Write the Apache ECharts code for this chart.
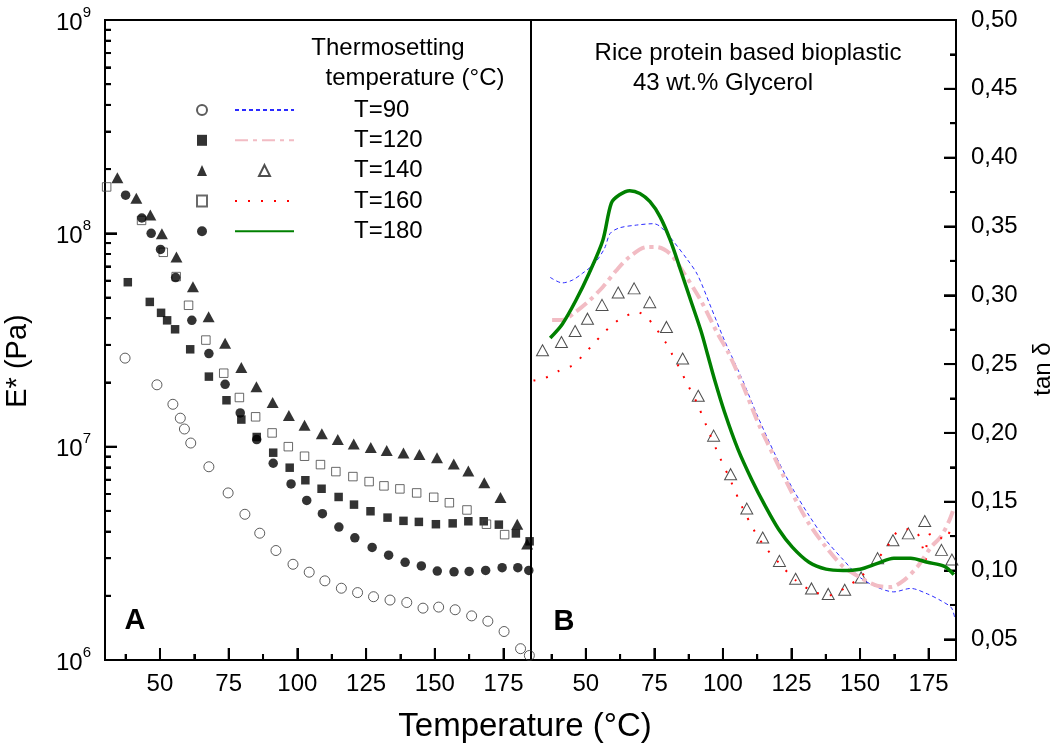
<!DOCTYPE html>
<html><head><meta charset="utf-8">
<script src="https://cdn.jsdelivr.net/npm/echarts@6/dist/echarts.min.js"></script>
<style>html,body{margin:0;padding:0;background:#fff}#c{width:1054px;height:749px;background:#fff}</style>
</head><body><div id="c"></div>
<script>
// ---------- Panel A: E* (Pa) vs temperature ----------
const eTemp90 = [37.3,48.9,54.7,57.4,58.9,61.2,67.8,74.8,80.9,86.3,92.2,98.4,104.3,110.0,116.0,121.9,127.7,133.7,139.8,145.7,151.4,157.4,163.4,169.3,175.2,181.2,184.4];
const eMod90  = [2.6e7,1.95e7,1.58e7,1.36e7,1.21e7,1.04e7,8.05e6,6.07e6,4.82e6,3.93e6,3.26e6,2.81e6,2.58e6,2.35e6,2.17e6,2.07e6,1.98e6,1.91e6,1.86e6,1.75e6,1.77e6,1.72e6,1.61e6,1.52e6,1.36e6,1.13e6,1.05e6];

const eTemp120 = [38.3,46.3,50.4,52.6,55.5,61.0,67.8,74.2,79.6,85.2,91.2,97.2,102.9,108.8,115.0,120.6,126.6,132.8,138.6,144.2,150.4,156.5,162.2,167.8,173.3,179.5,184.5];
const eMod120  = [5.9e7,4.77e7,4.24e7,3.91e7,3.55e7,2.86e7,2.13e7,1.65e7,1.34e7,1.11e7,9.37e6,7.97e6,6.96e6,6.35e6,5.81e6,5.35e6,4.98e6,4.65e6,4.49e6,4.44e6,4.33e6,4.37e6,4.47e6,4.47e6,4.31e6,3.92e6,3.6e6];

const eTemp140 = [34.5,41.4,46.5,50.7,56.0,62.0,67.7,73.7,79.6,85.1,91.0,96.9,102.6,108.9,114.7,120.5,126.7,132.5,138.6,144.4,150.8,156.9,162.2,168.0,173.9,180.0,183.6];
const eMod140  = [1.82e8,1.46e8,1.22e8,9.96e7,7.74e7,5.62e7,4.06e7,3.05e7,2.35e7,1.91e7,1.61e7,1.40e7,1.26e7,1.15e7,1.08e7,1.03e7,9.9e6,9.6e6,9.34e6,9.2e6,8.88e6,8.29e6,7.69e6,6.78e6,5.77e6,4.33e6,3.5e6];

const eTemp160 = [30.6,43.3,51.2,55.9,60.4,66.7,73.2,78.9,84.8,90.8,96.7,102.6,108.4,114.0,120.2,126.1,131.5,137.3,143.4,149.6,155.3,161.7,168.8,175.4];
const eMod160  = [1.65e8,1.15e8,8.15e7,6.27e7,4.6e7,3.16e7,2.21e7,1.7e7,1.38e7,1.16e7,1.0e7,9.02e6,8.24e6,7.64e6,7.24e6,6.86e6,6.55e6,6.34e6,6.07e6,5.79e6,5.46e6,5.05e6,4.33e6,3.87e6];

const eTemp180 = [37.5,43.4,46.8,50.2,55.7,61.6,67.8,73.7,79.2,85.2,91.2,97.7,103.4,109.1,115.1,120.9,127.2,133.2,139.2,145.1,150.9,157.0,162.5,168.5,174.5,180.2,184.2];
const eMod180  = [1.51e8,1.18e8,1.0e8,8.41e7,6.2e7,3.91e7,2.73e7,1.96e7,1.44e7,1.08e7,8.36e6,6.69e6,5.6e6,4.85e6,4.2e6,3.74e6,3.37e6,3.1e6,2.87e6,2.76e6,2.61e6,2.59e6,2.6e6,2.63e6,2.71e6,2.71e6,2.63e6];

// ---------- Panel B: tan delta vs temperature ----------
const tTemp90 = [37.0,41.4,45.1,48.8,53.1,56.8,58.9,62.3,68.5,74.7,77.1,80.8,87.0,90.7,95.7,100.6,106.8,112.9,119.1,125.3,131.4,137.6,143.8,150.0,156.1,162.3,168.5,174.6,179.6,183.3,184.5];
const tan90   = [0.313,0.309,0.311,0.316,0.323,0.334,0.345,0.349,0.351,0.352,0.350,0.342,0.326,0.315,0.291,0.267,0.240,0.211,0.184,0.160,0.140,0.122,0.108,0.095,0.088,0.0845,0.087,0.083,0.078,0.073,0.066];

const tTemp120 = [37.7,41.4,46.3,51.2,56.2,61.1,66.0,72.2,75.9,80.8,85.8,92.0,98.1,101.8,106.8,112.9,119.1,125.3,131.4,137.6,143.8,150.0,156.1,161.1,166.1,171.0,175.9,179.6,182.7,184.0];
const tan120   = [0.282,0.282,0.288,0.296,0.306,0.318,0.328,0.335,0.335,0.330,0.316,0.296,0.272,0.259,0.237,0.207,0.181,0.156,0.134,0.117,0.103,0.095,0.089,0.088,0.093,0.103,0.117,0.125,0.137,0.144];

const tTemp140 = [34.2,41.1,46.1,50.6,55.9,61.8,67.6,73.3,79.4,85.3,91.0,96.6,102.8,108.7,114.5,120.6,126.5,132.3,138.4,144.4,150.4,156.4,162.0,167.6,173.6,179.7,183.5];
const tan140   = [0.260,0.266,0.274,0.283,0.293,0.302,0.305,0.295,0.277,0.254,0.227,0.198,0.170,0.145,0.124,0.107,0.094,0.087,0.083,0.086,0.095,0.109,0.122,0.127,0.136,0.115,0.108];

const tTemp160 = [30.9,35.2,40.1,45.1,48.8,52.5,56.2,60.5,64.8,68.5,72.2,75.9,79.0,81.5,83.9,86.4,90.7,94.4,98.7,103.1,106.8,111.7,115.4,121.6,126.5,132.7,138.8,145.0,150.0,154.9,159.8,163.5,167.2,170.9,172.8,174.0,174.6,177.1,180.8,183.3];
const tan160   = [0.238,0.240,0.245,0.249,0.256,0.264,0.272,0.280,0.285,0.288,0.284,0.275,0.266,0.257,0.248,0.238,0.221,0.203,0.183,0.164,0.147,0.128,0.117,0.103,0.093,0.085,0.082,0.088,0.095,0.105,0.117,0.128,0.130,0.127,0.117,0.108,0.125,0.127,0.122,0.132];

const tTemp180 = [37.0,41.4,46.3,51.2,56.2,59.3,62.3,66.0,69.7,73.4,77.1,80.8,84.6,88.3,92.0,94.4,96.9,100.6,105.5,110.5,115.4,120.3,125.3,131.4,137.6,143.8,150.0,156.1,162.3,168.5,174.6,180.8,184.2];
const tan180   = [0.269,0.279,0.296,0.316,0.340,0.367,0.373,0.376,0.374,0.368,0.357,0.340,0.318,0.296,0.274,0.257,0.239,0.215,0.188,0.166,0.147,0.130,0.117,0.106,0.101,0.100,0.101,0.105,0.109,0.109,0.106,0.103,0.097];

// ---------- labels / ticks ----------
const seriesLabels = ['T=90','T=120','T=140','T=160','T=180'];
const xMajor = [50,75,100,125,150,175];
const xMinor = [37.5,62.5,87.5,112.5,137.5,162.5];
const tanMajor = [0.05,0.10,0.15,0.20,0.25,0.30,0.35,0.40,0.45,0.50];
const tanMinor = [0.075,0.125,0.175,0.225,0.275,0.325,0.375,0.425,0.475];
const logDecades = [1e6,1e7,1e8,1e9];
const logSteps = [2,3,4,5,6,7,8,9];

const FONT = "'Liberation Sans', Arial, sans-serif";
const blk = '#000';
const X_MIN = 30, X_MAX = 185, E_MIN = 1e6, E_MAX = 1e9, TAN_MIN = 0.035, TAN_MAX = 0.5;
const MAJ = 12, MIN = 6;
const zip = (a,b) => a.map((v,i)=>[v,b[i]]);
const logMinorExp = [];
logDecades.slice(0,3).forEach(d => logSteps.forEach(k => logMinorExp.push(Math.log10(k*d))));

function xAxes(g){
  return [
    { type:'value', gridIndex:g, min:X_MIN, max:X_MAX, position:'bottom',
      axisLine:{show:true, onZero:false, lineStyle:{color:blk,width:2}},
      axisTick:{show:true, inside:true, length:MAJ, customValues:xMajor, lineStyle:{color:blk,width:2}},
      axisLabel:{customValues:xMajor, fontSize:24, color:blk, margin:12, fontFamily:FONT},
      splitLine:{show:false} },
    { type:'value', gridIndex:g, min:X_MIN, max:X_MAX, position:'bottom',
      axisLine:{show:false, onZero:false},
      axisTick:{show:true, inside:true, length:MIN, customValues:xMinor, lineStyle:{color:blk,width:2}},
      axisLabel:{show:false}, splitLine:{show:false} }
  ];
}
const tanNames = ['tan90','tan120','tan140','tan160','tan180'];
const ROW0 = 98, ROWGAP = 6.3;

const option = {
  animation:false,
  grid:[
    {left:105, top:20, width:426, height:640, show:true, borderColor:blk, borderWidth:2, backgroundColor:'transparent'},
    {left:531, top:20, width:425, height:640, show:true, borderColor:blk, borderWidth:2, backgroundColor:'transparent'}
  ],
  xAxis:[...xAxes(0), ...xAxes(1)],
  yAxis:[
    { type:'log', logBase:10, gridIndex:0, min:E_MIN, max:E_MAX, position:'left',
      axisLine:{show:true, onZero:false, lineStyle:{color:blk,width:2}},
      axisTick:{show:true, inside:true, length:MAJ, lineStyle:{color:blk,width:2}},
      minorTick:{show:false}, splitLine:{show:false},
      axisLabel:{margin:14, color:blk,
        formatter: v => '{b|10}{s|' + Math.round(Math.log10(v)) + '}',
        rich:{ b:{fontSize:24, fontFamily:FONT, color:blk, verticalAlign:'bottom', lineHeight:30},
               s:{fontSize:15, fontFamily:FONT, color:blk, verticalAlign:'top', lineHeight:15} } } },
    { type:'value', gridIndex:0, min:6, max:9, position:'left',
      axisLine:{show:false, onZero:false},
      axisTick:{show:true, inside:true, length:MIN, customValues:logMinorExp, lineStyle:{color:blk,width:2}},
      axisLabel:{show:false}, splitLine:{show:false} },
    { type:'value', gridIndex:1, min:TAN_MIN, max:TAN_MAX, position:'right',
      axisLine:{show:true, onZero:false, lineStyle:{color:blk,width:2}},
      axisTick:{show:true, inside:true, length:MAJ, customValues:tanMajor, lineStyle:{color:blk,width:2}},
      axisLabel:{customValues:tanMajor, fontSize:24, color:blk, margin:15, fontFamily:FONT,
        formatter: v => v.toFixed(2).replace('.', ',')},
      splitLine:{show:false} },
    { type:'value', gridIndex:1, min:TAN_MIN, max:TAN_MAX, position:'right',
      axisLine:{show:false, onZero:false},
      axisTick:{show:true, inside:true, length:MIN, customValues:tanMinor, lineStyle:{color:blk,width:2}},
      axisLabel:{show:false}, splitLine:{show:false} }
  ],
  legend:[
    { orient:'vertical', left:196, top:ROW0, padding:0, itemGap:ROWGAP, itemWidth:10, itemHeight:11,
      selectedMode:false, data:['E90','E120','E140','E160','E180'],
      formatter: () => ' ', textStyle:{fontSize:24, lineHeight:24} },
    { orient:'vertical', left:234, top:ROW0, padding:0, itemGap:ROWGAP, itemWidth:59, itemHeight:11,
      selectedMode:false,
      data: tanNames.map(n => ({name:n, itemStyle:{opacity:0}})),
      formatter: n => seriesLabels[tanNames.indexOf(n)],
      textStyle:{fontSize:24, lineHeight:24, color:blk, fontFamily:FONT, padding:[0,0,0,55]} },
    { orient:'vertical', left:258, top:ROW0 + 2*(24+ROWGAP), padding:0, itemWidth:11, itemHeight:11,
      selectedMode:false, data:['tan140'],
      formatter: () => ' ', textStyle:{fontSize:24, lineHeight:24} }
  ],
  series:[
    { name:'E90', type:'scatter', xAxisIndex:0, yAxisIndex:0, data:zip(eTemp90,eMod90),
      symbol:'circle', symbolSize:10, itemStyle:{color:'rgba(255,255,255,0)', borderColor:'#333', borderWidth:1} },
    { name:'E120', type:'scatter', xAxisIndex:0, yAxisIndex:0, data:zip(eTemp120,eMod120),
      symbol:'rect', symbolSize:8.5, itemStyle:{color:blk} },
    { name:'E140', type:'scatter', xAxisIndex:0, yAxisIndex:0, data:zip(eTemp140,eMod140),
      symbol:'triangle', symbolSize:[12,11], itemStyle:{color:blk} },
    { name:'E160', type:'scatter', xAxisIndex:0, yAxisIndex:0, data:zip(eTemp160,eMod160),
      symbol:'rect', symbolSize:8.5, itemStyle:{color:'rgba(255,255,255,0)', borderColor:'#444', borderWidth:1} },
    { name:'E180', type:'scatter', xAxisIndex:0, yAxisIndex:0, data:zip(eTemp180,eMod180),
      symbol:'circle', symbolSize:9.5, itemStyle:{color:blk} },

    { name:'tan90', type:'line', xAxisIndex:2, yAxisIndex:2, data:zip(tTemp90,tan90),
      symbol:'none', smooth:0.3, lineStyle:{color:'#2b2bff', width:1, type:[4,3]}, itemStyle:{color:'#2b2bff'} },
    { name:'tan120', type:'line', xAxisIndex:2, yAxisIndex:2, data:zip(tTemp120,tan120),
      symbol:'none', smooth:0.3, lineStyle:{color:'#f2bcc4', width:4, type:[13,5,4,5]}, itemStyle:{color:'#f2bcc4'} },
    { name:'tan140', type:'scatter', xAxisIndex:2, yAxisIndex:2, data:zip(tTemp140,tan140),
      symbol:'triangle', symbolSize:[12,11], itemStyle:{color:'rgba(255,255,255,0)', borderColor:'#222', borderWidth:1} },
    { name:'tan160', type:'line', xAxisIndex:2, yAxisIndex:2, data:zip(tTemp160,tan160),
      symbol:'none', smooth:0.3, lineStyle:{color:'#ff0000', width:2, type:[2,11]}, itemStyle:{color:'#ff0000'} },
    { name:'tan180', type:'line', xAxisIndex:2, yAxisIndex:2, data:zip(tTemp180,tan180),
      symbol:'none', smooth:0.3, lineStyle:{color:'#008000', width:3.5}, itemStyle:{color:'#008000'} }
  ]
};

const texts = [
  {type:'text', x:388, y:48, style:{text:'Thermosetting', fontSize:24, fontFamily:FONT, fill:blk, textAlign:'center', textVerticalAlign:'middle'}},
  {type:'text', x:415, y:78, style:{text:'temperature (°C)', fontSize:24, fontFamily:FONT, fill:blk, textAlign:'center', textVerticalAlign:'middle'}},
  {type:'text', x:748, y:53, style:{text:'Rice protein based bioplastic', fontSize:24, fontFamily:FONT, fill:blk, textAlign:'center', textVerticalAlign:'middle'}},
  {type:'text', x:723, y:83, style:{text:'43 wt.% Glycerol', fontSize:24, fontFamily:FONT, fill:blk, textAlign:'center', textVerticalAlign:'middle'}},
  {type:'text', x:135, y:621, style:{text:'A', fontSize:29, fontWeight:'bold', fontFamily:FONT, fill:blk, textAlign:'center', textVerticalAlign:'middle'}},
  {type:'text', x:564, y:622, style:{text:'B', fontSize:29, fontWeight:'bold', fontFamily:FONT, fill:blk, textAlign:'center', textVerticalAlign:'middle'}},
  {type:'text', x:18, y:361, rotation:Math.PI/2, style:{text:'E* (Pa)', fontSize:29, fontFamily:FONT, fill:blk, textAlign:'center', textVerticalAlign:'middle'}},
  {type:'text', x:1043, y:369, rotation:Math.PI/2, style:{text:'tan δ', fontSize:24, fontFamily:FONT, fill:blk, textAlign:'center', textVerticalAlign:'middle'}},
  {type:'text', x:525, y:727, style:{text:'Temperature (°C)', fontSize:33, fontFamily:FONT, fill:blk, textAlign:'center', textVerticalAlign:'middle'}}
];

const chart = echarts.init(document.getElementById('c'), null, {renderer:'canvas'});
chart.setOption(option);

// backup tick marks placed through the grids' own axis scales (convertToPixel), low z
const tickEls = [];
function px(gi, xv, yv){
  try { const p = chart.convertToPixel({gridIndex:gi}, [xv, yv]); return (p && isFinite(p[0]) && isFinite(p[1])) ? p : null; }
  catch(e){ return null; }
}
function vTick(gi, xv, yv, L){
  const p = px(gi, xv, yv);
  if (p) tickEls.push({type:'rect', z:1, silent:true, shape:{x:p[0]-1, y:p[1]-L, width:2, height:L}, style:{fill:blk}});
}
function hTick(gi, xv, yv, L, toLeft){
  const p = px(gi, xv, yv);
  if (p) tickEls.push({type:'rect', z:1, silent:true, shape:{x: toLeft ? p[0]-L : p[0], y:p[1]-1, width:L, height:2}, style:{fill:blk}});
}
xMajor.forEach(v => { vTick(0, v, E_MIN, MAJ); vTick(1, v, TAN_MIN, MAJ); });
xMinor.forEach(v => { vTick(0, v, E_MIN, MIN); vTick(1, v, TAN_MIN, MIN); });
logDecades.forEach(v => hTick(0, X_MIN, v, MAJ, false));
logDecades.slice(0,3).forEach(d => logSteps.forEach(k => hTick(0, X_MIN, k*d, MIN, false)));
tanMajor.forEach(v => hTick(1, X_MAX, v, MAJ, true));
tanMinor.forEach(v => hTick(1, X_MAX, v, MIN, true));

chart.setOption({graphic: texts.concat(tickEls)});
</script></body></html>
